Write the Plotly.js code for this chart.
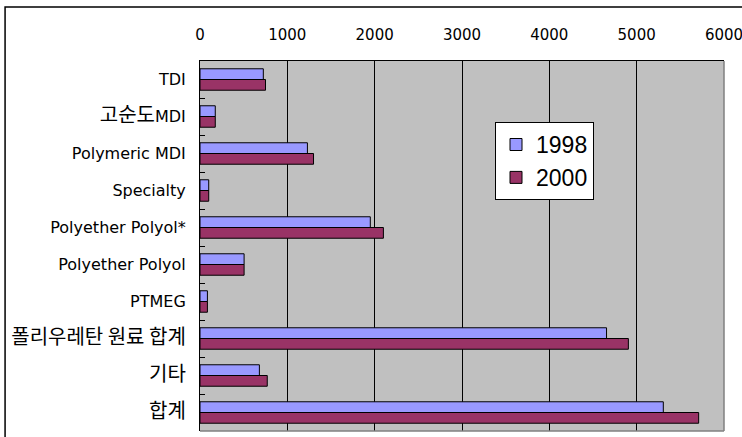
<!DOCTYPE html>
<html>
<head>
<meta charset="utf-8">
<script src="https://cdn.plot.ly/plotly-3.0.1.min.js"></script>
<style>html,body{margin:0;padding:0;background:#fff;}#chart{width:742px;height:437px;}</style>
</head>
<body>
<div id="chart"></div>
<script>
const categories = ["TDI", "고순도MDI", "Polymeric MDI", "Specialty", "Polyether Polyol*", "Polyether Polyol", "PTMEG", "폴리우레탄 원료 합계", "기타", "합계"];
const values1998 = [725, 175, 1230, 100, 1950, 505, 85, 4655, 680, 5305];
const values2000 = [750, 175, 1300, 100, 2100, 505, 85, 4905, 770, 5710];
const xTicks = [0, 1000, 2000, 3000, 4000, 5000, 6000];
const seriesNames = ["1998", "2000"];

const FONT = "Liberation Sans, Arial, 'Noto Sans CJK KR', sans-serif";
const TICKFONT = "DejaVu Sans, 'Noto Sans CJK KR', sans-serif";

// Hangul runs rendered slightly larger, as in the reference (Gulim-like)
function styleLabel(s) {
  return s.replace(/([\uAC00-\uD7A3]+(?: [\uAC00-\uD7A3]+)*)/g,
    '<span style="font-size:20px;font-family:\'Noto Sans CJK KR\'">$1</span>');
}
const yTickText = categories.map(styleLabel);

const traces = [
  {type: "bar", orientation: "h", name: seriesNames[0], y: categories, x: values1998,
   marker: {color: "#9999FF", line: {color: "#000000", width: 1}}},
  {type: "bar", orientation: "h", name: seriesNames[1], y: categories, x: values2000,
   marker: {color: "#993366", line: {color: "#000000", width: 1}}}
];

const layout = {
  width: 742, height: 437,
  margin: {l: 200, r: 18, t: 61, b: 6, pad: 0},
  paper_bgcolor: "#ffffff",
  plot_bgcolor: "#C0C0C0",
  barmode: "group",
  bargap: 0.42,
  bargroupgap: 0,
  font: {family: FONT, size: 17, color: "#000000"},
  showlegend: true,
  legend: {x: 0.563, y: 0.835, xanchor: "left", yanchor: "top",
           bgcolor: "#ffffff", bordercolor: "#000000", borderwidth: 1,
           font: {size: 23, family: FONT}, traceorder: "normal", itemwidth: 30,
           tracegroupgap: 0},
  xaxis: {side: "top", range: [0, 6000], tickvals: xTicks, ticktext: xTicks.map(String),
          showgrid: true, gridcolor: "#000000", gridwidth: 1, zeroline: false,
          showline: true, linecolor: "#000000", linewidth: 1, ticks: "",
          ticklabeloverflow: "allow",
          ticklabelstandoff: 14, tickfont: {size: 15, family: TICKFONT}, fixedrange: true},
  yaxis: {type: "category", autorange: "reversed", showgrid: false, zeroline: false,
          tickmode: "array", tickvals: categories, ticktext: yTickText,
          showline: true, linecolor: "#000000", linewidth: 1,
          ticks: "inside", ticklen: 5, tickcolor: "#000000", tickson: "boundaries",
          ticklabelstandoff: 10, tickfont: {size: 16, family: TICKFONT}, fixedrange: true},
  shapes: [
    {type: "line", xref: "paper", yref: "paper", x0: 1, x1: 1, y0: 0, y1: 1, line: {color: "#808080", width: 1.5}},
    {type: "line", xref: "paper", yref: "paper", x0: 0, x1: 1, y0: 0, y1: 0, line: {color: "#808080", width: 1.5}},
    {type: "rect", xref: "paper", yref: "paper", x0: -0.372, x1: 1.2, y0: -0.2, y1: 1.146, line: {color: "#000000", width: 1.5}, fillcolor: "rgba(0,0,0,0)", layer: "below"}
  ]
};

Plotly.newPlot("chart", traces, layout, {displayModeBar: false, staticPlot: true});
</script>
</body>
</html>
